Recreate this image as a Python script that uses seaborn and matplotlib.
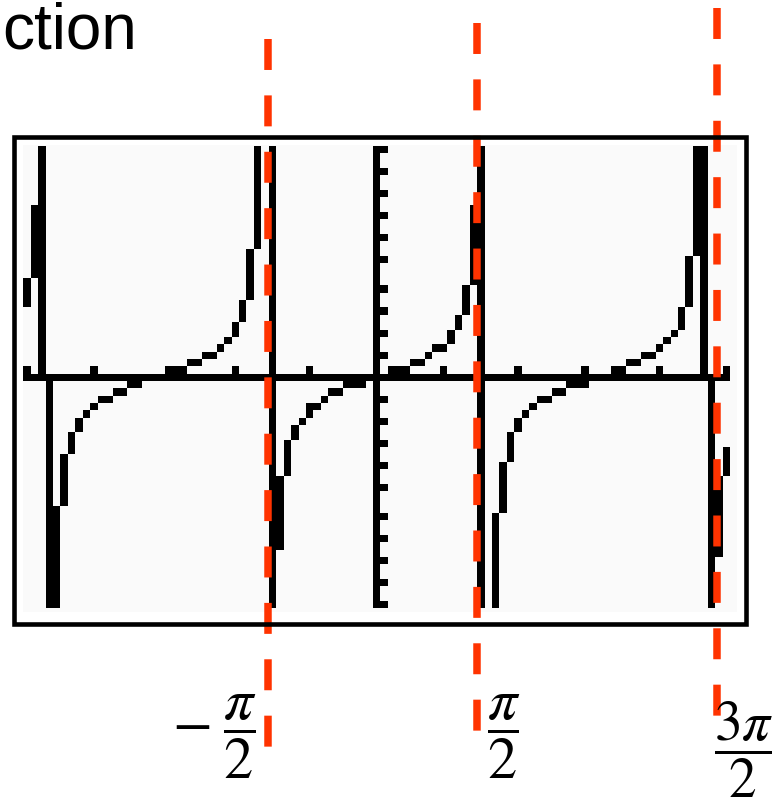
import numpy as np
import matplotlib
matplotlib.use("Agg")
import matplotlib.pyplot as plt
import matplotlib.transforms as mtransforms
from matplotlib.colors import ListedColormap
from matplotlib.patches import Rectangle
import seaborn as sns

# graphing-calculator window for y = tan(x)
x_min, x_max = -5, 5
y_min, y_max = -10, 10
n_cols, n_rows = 95, 63
x_ticks = [-5, -4, -3, -2, -1, 1, 2, 3, 4, 5]
y_ticks = [-10, -9, -8, -7, -6, -5, -4, -3, -2, -1, 1, 2, 3, 4, 5, 6, 7, 8, 9, 10]

# screen rows lit by the trace in every pixel column (top, bottom); -1 = nothing lit
trace_top = [18, 8, 0, 31, 49, 42, 39, 37, 36, 35, 34, 34, 33, 33, 32, 32,
             31, 31, 31, 30, 30, 30, 29, 29, 28, 28, 27, 26, 24, 21, 14, 0,
             -1, 0, 45, 40, 38, 37, 35, 35, 34, 33, 33, 32, 32, 32, 31, 31,
             31, 30, 30, 30, 29, 29, 28, 27, 27, 25, 23, 19, 8, 0, -1, 50,
             43, 39, 37, 36, 35, 34, 34, 33, 33, 32, 32, 32, 31, 31, 31, 30,
             30, 29, 29, 28, 28, 27, 26, 25, 22, 15, 0, 0, 31, 45, 41]
trace_bottom = [21, 17, 30, 62, 62, 48, 41, 38, 36, 35, 34, 34, 33, 33, 32, 32,
                31, 31, 31, 30, 30, 30, 29, 29, 28, 28, 27, 26, 25, 23, 20, 13,
                -1, 62, 54, 44, 39, 37, 36, 35, 34, 33, 33, 32, 32, 32, 31, 31,
                31, 30, 30, 30, 29, 29, 28, 27, 27, 26, 24, 22, 18, 62, -1, 62,
                49, 42, 38, 36, 35, 34, 34, 33, 33, 32, 32, 32, 31, 31, 31, 30,
                30, 29, 29, 28, 28, 27, 26, 25, 24, 21, 14, 30, 62, 55, 44]

# hand-drawn asymptote guides (x in radians) and their labels
asymptote_x = [-1.55, 1.43, 4.87]
asymptote_labels = [r"$-\;\dfrac{\pi}{2}$", r"$\dfrac{\pi}{2}$", r"$\dfrac{3\pi}{2}$"]

W, H = 780, 802
plt.rcParams["mathtext.fontset"] = "stix"
plt.rcParams["lines.scale_dashes"] = False

dx = (x_max - x_min) / (n_cols - 1)
dy = (y_max - y_min) / (n_rows - 1)


def col_of(x):
    return int(np.ceil((x - x_min) / dx - 0.5 - 1e-9))


def row_of(y):
    return int(np.ceil((y_max - y) / dy - 0.5 - 1e-9))


# rasterise the calculator screen
screen = np.zeros((n_rows, n_cols))
r0, c0 = row_of(0), col_of(0)
screen[r0, :] = 1
screen[:, c0] = 1
for t in x_ticks:
    screen[r0 - 1, col_of(t)] = 1
for t in y_ticks:
    screen[row_of(t), c0 + 1] = 1
for c, (a, b) in enumerate(zip(trace_top, trace_bottom)):
    if a >= 0:
        screen[a:b + 1, c] = 1


def fx(px):
    return px / W


def fy(py):
    return 1 - py / H


fig = plt.figure(figsize=(W / 100, H / 100), dpi=100)
fig.patch.set_facecolor("white")

ax = fig.add_axes([fx(23), fy(612), fx(737) - fx(23), fy(145) - fy(612)])
sns.heatmap(screen, cmap=ListedColormap(["#fafafa", "black"]), vmin=0, vmax=1,
            cbar=False, xticklabels=False, yticklabels=False, ax=ax)
ax.set_facecolor("#fafafa")
ax.set_xlim(-0.04, 95.93)
ax.set_ylim(63.49, -0.14)

# screen frame
fig.patches.append(Rectangle((fx(14.2), fy(624.2)), fx(745.5) - fx(14.2),
                             fy(137.2) - fy(624.2), transform=fig.transFigure,
                             fill=False, lw=3.3, edgecolor="black"))

# red dashed asymptotes, drawn across the frame
blend = mtransforms.blended_transform_factory(ax.transData, fig.transFigure)
line_tops = [38.5, 23, 7.7]
line_len = 708
for xa, top in zip(asymptote_x, line_tops):
    xh = (xa - x_min) / dx + 0.5
    ax.plot([xh, xh], [fy(top), fy(top + line_len)], transform=blend,
            color="#ff3300", lw=5.4, linestyle=(0, (22.3, 18.3)),
            solid_capstyle="butt", dash_capstyle="butt", clip_on=False, zorder=5)

label_pos = [(214, 737), (504, 737), (744, 750)]
label_size = [42, 42, 40]
for lab, (px, py), fs in zip(asymptote_labels, label_pos, label_size):
    fig.text(fx(px), fy(py), lab, fontsize=fs, ha="center", va="center")

fig.text(fx(2.5), fy(48.3), "ction", fontsize=46, family="Liberation Sans",
         ha="left", va="baseline")

fig.savefig("out.png", dpi=100)
